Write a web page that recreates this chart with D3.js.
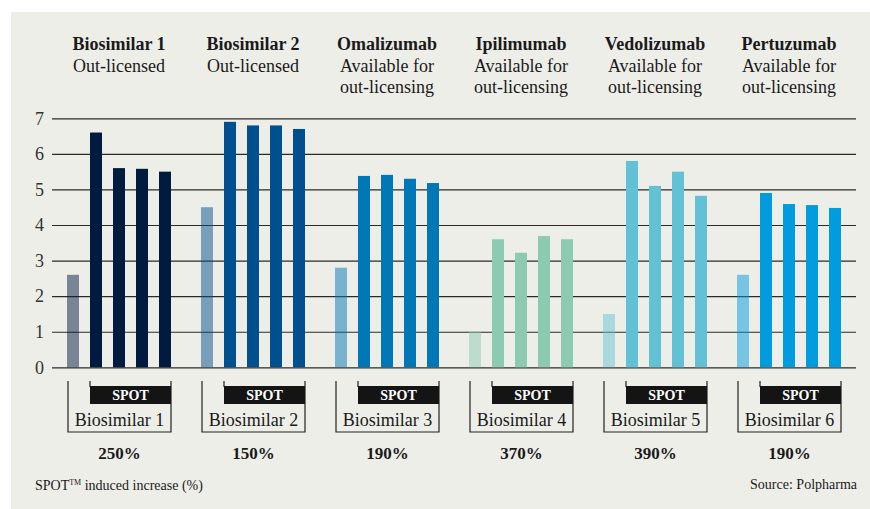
<!DOCTYPE html>
<html>
<head>
<meta charset="utf-8">
<script src="https://cdn.jsdelivr.net/npm/d3@7"></script>
<style>
  body { margin: 0; background: #ffffff; }
  svg { display: block; font-family: "Liberation Serif", "DejaVu Serif", serif; }
</style>
</head>
<body>
<svg id="chart" width="870" height="509"></svg>
<script>
// data
var products = ["Biosimilar 1", "Biosimilar 2", "Omalizumab", "Ipilimumab", "Vedolizumab", "Pertuzumab"];
var statusLines = [
    ["Out-licensed"],
    ["Out-licensed"],
    ["Available for", "out-licensing"],
    ["Available for", "out-licensing"],
    ["Available for", "out-licensing"],
    ["Available for", "out-licensing"]
];
var biosimilars = ["Biosimilar 1", "Biosimilar 2", "Biosimilar 3", "Biosimilar 4", "Biosimilar 5", "Biosimilar 6"];
var baseline = [2.6, 4.5, 2.8, 1.0, 1.5, 2.6];
var spotValues = [
    [6.6, 5.6, 5.58, 5.5],
    [6.9, 6.8, 6.8, 6.7],
    [5.38, 5.41, 5.3, 5.18],
    [3.6, 3.22, 3.69, 3.6],
    [5.8, 5.1, 5.5, 4.82],
    [4.9, 4.59, 4.56, 4.48]
];
var increase = ["250%", "150%", "190%", "370%", "390%", "190%"];
var yTicks = [0, 1, 2, 3, 4, 5, 6, 7];
var colors = ["#001b3f", "#004f8f", "#0077b6", "#8ccab2", "#63c1d6", "#009cde"];

var svg = d3.select("#chart");

// background panel
svg.append("rect").attr("x", 11).attr("y", 12).attr("width", 859).attr("height", 497)
    .attr("fill", "#eeeee9");

var x0 = d3.scaleBand().domain(products).range([52, 856]);
var x1 = d3.scaleBand().domain(d3.range(5)).range([0, x0.bandwidth()])
    .paddingInner(11 / 23).paddingOuter(15 / 23);
var y = d3.scaleLinear().domain([0, 7]).range([367.3, 118.3]);

// gridlines + tick labels
var axis = svg.append("g").attr("transform", "translate(52,0)")
    .call(d3.axisLeft(y).tickValues(yTicks).tickSize(-804).tickPadding(8).tickFormat(d3.format("d")));
axis.select(".domain").remove();
axis.selectAll(".tick line").attr("stroke", "#2a2a2a").attr("stroke-width", 1.2);
axis.selectAll(".tick text").attr("fill", "#333").attr("font-size", 18)
    .attr("font-family", "Liberation Serif, serif");

// bars
var groups = svg.selectAll("g.group")
    .data(products)
    .enter()
    .append("g")
    .attr("class", "group")
    .attr("transform", function (d) { return "translate(" + x0(d) + ",0)"; });

groups.selectAll("rect")
    .data(function (d, i) {
        var vals = [baseline[i]].concat(spotValues[i]);
        return vals.map(function (v, j) { return { g: i, j: j, v: v }; });
    })
    .enter()
    .append("rect")
    .attr("x", function (d) { return x1(d.j); })
    .attr("y", function (d) { return y(d.v); })
    .attr("width", x1.bandwidth())
    .attr("height", function (d) { return y(0) - y(d.v); })
    .attr("fill", function (d) { return colors[d.g]; })
    .attr("fill-opacity", function (d) { return d.j == 0 ? 0.5 : 1; });

// headers
var cx = x0.bandwidth() / 2;
groups.append("text")
    .attr("x", cx).attr("y", 50)
    .attr("text-anchor", "middle")
    .attr("font-size", 18).attr("font-weight", "bold").attr("fill", "#1a1a1a")
    .text(function (d) { return d; });

groups.each(function (d, i) {
    var g = d3.select(this);
    statusLines[i].forEach(function (line, k) {
        g.append("text")
            .attr("x", cx).attr("y", 72 + k * 21)
            .attr("text-anchor", "middle")
            .attr("font-size", 18).attr("fill", "#1a1a1a")
            .text(line);
    });
});

// brackets under each group
var bl = x1(0) + 1, br = x1(4) + x1.bandwidth(), bs = x1(1);
groups.append("path")
    .attr("d", "M" + bl + ",381V432H" + br + "V381M" + bs + ",381V387")
    .attr("fill", "none").attr("stroke", "#222").attr("stroke-width", 1.2);

groups.append("rect")
    .attr("x", bs).attr("y", 386).attr("width", br - bs).attr("height", 18)
    .attr("fill", "#141414");

groups.append("text")
    .attr("x", (bs + br) / 2).attr("y", 400)
    .attr("text-anchor", "middle")
    .attr("font-size", 14).attr("font-weight", "bold").attr("fill", "#ffffff")
    .text("SPOT");

groups.append("text")
    .attr("x", (bl + br) / 2).attr("y", 426)
    .attr("text-anchor", "middle")
    .attr("font-size", 18).attr("fill", "#1a1a1a")
    .text(function (d, i) { return biosimilars[i]; });

groups.append("text")
    .attr("x", (bl + br) / 2).attr("y", 459)
    .attr("text-anchor", "middle")
    .attr("font-size", 17).attr("font-weight", "bold").attr("fill", "#1a1a1a")
    .text(function (d, i) { return increase[i]; });

// footer
var foot = svg.append("text").attr("x", 35).attr("y", 490)
    .attr("font-size", 14).attr("fill", "#1a1a1a");
foot.append("tspan").text("SPOT");
foot.append("tspan").attr("font-size", 8).attr("dy", -5).text("TM");
foot.append("tspan").attr("dy", 5).text(" induced increase (%)");

svg.append("text").attr("x", 857).attr("y", 489)
    .attr("text-anchor", "end")
    .attr("font-size", 14).attr("fill", "#1a1a1a")
    .text("Source: Polpharma");
</script>
</body>
</html>
